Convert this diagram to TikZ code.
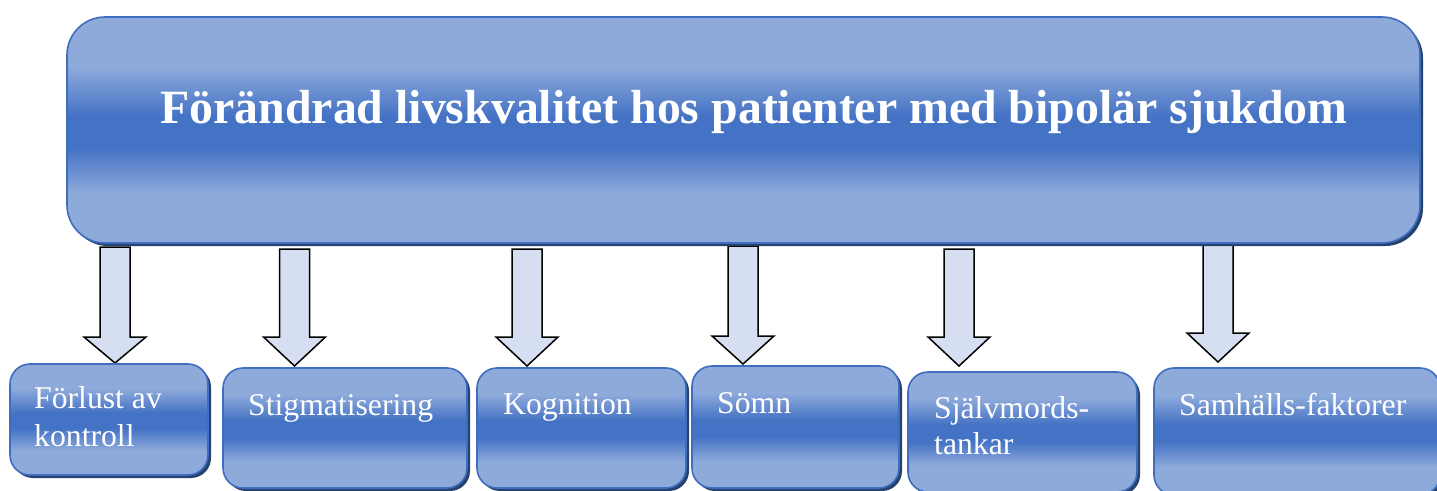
\documentclass[tikz,border=0pt]{standalone}
\usepackage{fontspec}
\setmainfont{Liberation Serif}
\usetikzlibrary{shadows,calc}
\definecolor{lightb}{HTML}{8EAADB}
\definecolor{darkb}{HTML}{4472C4}
\definecolor{edgeb}{HTML}{3F6DC0}
\definecolor{shadb}{HTML}{27426F}
\definecolor{arrowfill}{HTML}{D6DFF1}
\pgfdeclareverticalshading{boxshade}{100bp}{color(0bp)=(lightb); color(36bp)=(lightb); color(46bp)=(darkb); color(53bp)=(darkb); color(64bp)=(lightb); color(100bp)=(lightb)}
\tikzset{
  shbox/.style={draw=edgeb, line width=1.6pt, shading=boxshade, rounded corners=#1,
    inner sep=0pt, outer sep=0pt,
    drop shadow={shadow xshift=3pt, shadow yshift=-3pt, fill=shadb, opacity=1}},
  barrow/.style={draw=black, line width=1.5pt, fill=arrowfill, line join=miter},
  titletext/.style={anchor=base, text=white, inner sep=0pt, font=\fontsize{47.8}{52}\selectfont\bfseries},
  boxtext/.style={anchor=base west, text=white, inner sep=0pt, font=\fontsize{31.7}{38}\selectfont}
}
\newcommand{\blockarrow}[3]{%
  \draw[barrow] ($(#1)+(-15,0)$) -- ($(#1)+(15,0)$) -- ($(#2)+(15,-#3)$) -- ($(#2)+(31,-#3)$) -- (#2) -- ($(#2)+(-31,-#3)$) -- ($(#2)+(-15,-#3)$) -- cycle;}
\begin{document}
\begin{tikzpicture}[x=1pt,y=-1pt]
\useasboundingbox (0,0) rectangle (1437,490);
\clip (0,0) rectangle (1437,490);
% arrows
\coordinate (s1) at (115,247);   \coordinate (e1) at (115,363);
\coordinate (s2) at (294.5,249); \coordinate (e2) at (294.5,366);
\coordinate (s3) at (527,249);   \coordinate (e3) at (527,366);
\coordinate (s4) at (743,246);   \coordinate (e4) at (743,364);
\coordinate (s5) at (959,249);   \coordinate (e5) at (959,366);
\coordinate (s6) at (1218,244);  \coordinate (e6) at (1218,362);
\blockarrow{s1}{e1}{26}
\blockarrow{s2}{e2}{29}
\blockarrow{s3}{e3}{29}
\blockarrow{s4}{e4}{28}
\blockarrow{s5}{e5}{29}
\blockarrow{s6}{e6}{29}
% main box
\node[shbox=38pt, minimum width=1353pt, minimum height=226pt] (main) at (743.5,130) {};
\node[titletext] (title) at (754,123) {Förändrad livskvalitet hos patienter med bipolär sjukdom};
% sub boxes
\node[shbox=20pt, minimum width=198pt, minimum height=111pt] (b1) at (109,419.5) {};
\node[shbox=20pt, minimum width=244pt, minimum height=120pt] (b2) at (345,428) {};
\node[shbox=20pt, minimum width=209pt, minimum height=120pt] (b3) at (581.5,428) {};
\node[shbox=20pt, minimum width=207pt, minimum height=122pt] (b4) at (795.5,427) {};
\node[shbox=20pt, minimum width=229pt, minimum height=120pt] (b5) at (1022.5,432) {};
\node[shbox=20pt, minimum width=286pt, minimum height=127pt] (b6) at (1297,431.5) {};
% texts
\node[boxtext] (t1a) at (34,408) {Förlust av};
\node[boxtext] (t1b) at (34,446) {kontroll};
\node[boxtext] (t2) at (248,415) {Stigmatisering};
\node[boxtext] (t3) at (503,414) {Kognition};
\node[boxtext] (t4) at (717,413) {Sömn};
\node[boxtext] (t5a) at (934,418) {Självmords-};
\node[boxtext] (t5b) at (934,454) {tankar};
\node[boxtext] (t6) at (1179,415) {Samhälls-faktorer};
\end{tikzpicture}
\end{document}
